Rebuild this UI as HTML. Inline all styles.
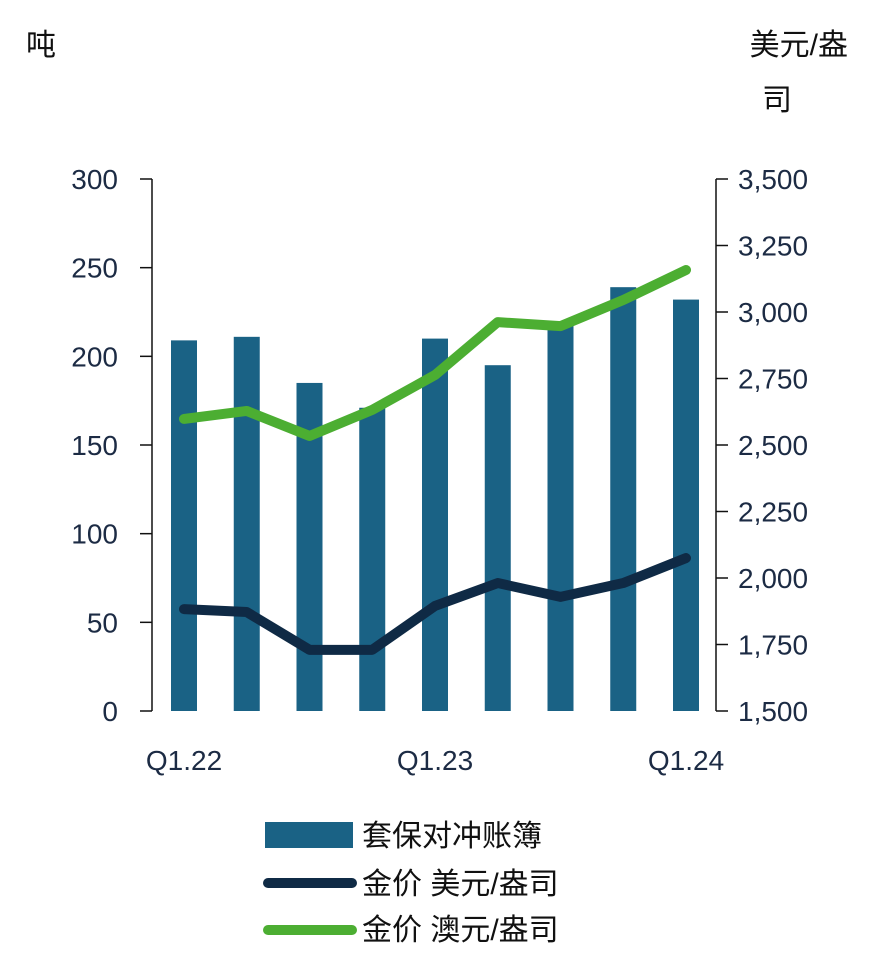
<!DOCTYPE html>
<html><head><meta charset="utf-8">
<style>
html,body{margin:0;padding:0;background:#fff;}
svg text{font-family:"Liberation Sans","Noto Sans CJK SC",sans-serif;}
</style></head>
<body>
<svg id="chart" width="870" height="962" viewBox="0 0 870 962" xmlns="http://www.w3.org/2000/svg">
<text x="26" y="55" font-size="30" fill="#111">吨</text>
<text x="848" y="55" font-size="30" fill="#111" text-anchor="end">美元/盎</text>
<text x="777" y="110" font-size="30" fill="#111" text-anchor="middle">司</text>
<g id="axes"></g>
<g id="bars"></g>
<g id="lines"></g>
<g id="legend">
  <rect x="265" y="822" width="88" height="26" fill="#1a6285"/>
  <text x="362" y="846" font-size="30" fill="#111">套保对冲账簿</text>
  <line x1="268" y1="883" x2="352" y2="883" stroke="#0f2a45" stroke-width="10" stroke-linecap="round"/>
  <text x="362" y="894" font-size="30" fill="#111">金价 美元/盎司</text>
  <line x1="268" y1="930" x2="352" y2="930" stroke="#4cae32" stroke-width="10" stroke-linecap="round"/>
  <text x="362" y="940" font-size="30" fill="#111">金价 澳元/盎司</text>
</g>
</svg>
<script>
const categories = ["Q1.22","Q2.22","Q3.22","Q4.22","Q1.23","Q2.23","Q3.23","Q4.23","Q1.24"];
const hedgeTonnes = [209,211,185,171,210,195,219,239,232];
const goldUsd = [1883,1872,1730,1730,1895,1981,1929,1981,2075];
const goldAud = [2598,2628,2534,2632,2763,2962,2947,3045,3158];
const leftTicks = [0,50,100,150,200,250,300];
const rightTicks = [1500,1750,2000,2250,2500,2750,3000,3250,3500];
const xLabels = ["Q1.22","Q1.23","Q1.24"];

const NS="http://www.w3.org/2000/svg";
const yTop=179, yBottom=711, leftX=152, rightX=716;
const yL=v=>yBottom-(v-0)/(300-0)*(yBottom-yTop);
const yR=v=>yBottom-(v-1500)/(3500-1500)*(yBottom-yTop);
const step=62.75, x0=184;
const xC=i=>x0+i*step;
function mk(tag,attrs,parent){const e=document.createElementNS(NS,tag);for(const k in attrs)e.setAttribute(k,attrs[k]);parent.appendChild(e);return e;}
const axes=document.getElementById('axes');
let ax=mk('line',{x1:leftX,y1:yTop,x2:leftX,y2:yBottom,stroke:'#111','stroke-width':1.5},axes);


ax=mk('line',{x1:rightX,y1:yTop,x2:rightX,y2:yBottom,stroke:'#111','stroke-width':1.5},axes);


leftTicks.forEach(v=>{
  const y=yL(v);
  const t=mk('line',{x1:leftX-12,y1:y,x2:leftX,y2:y,stroke:'#111','stroke-width':1.5},axes);
  
  
  const tx=mk('text',{x:118,y:y+10,'font-size':28,fill:'#1c2b44','text-anchor':'end'},axes);
  tx.textContent=v;
  
  
});
rightTicks.forEach(v=>{
  const y=yR(v);
  const t=mk('line',{x1:rightX,y1:y,x2:rightX+12,y2:y,stroke:'#111','stroke-width':1.5},axes);
  
  
  const tx=mk('text',{x:738,y:y+10,'font-size':28,fill:'#1c2b44'},axes);
  tx.textContent=v.toLocaleString('en-US');
  
  
});
xLabels.forEach(l=>{
  const i=categories.indexOf(l);
  const tx=mk('text',{x:xC(i),y:770,'font-size':28,fill:'#1c2b44','text-anchor':'middle'},axes);
  tx.textContent=l;
  
  
});
const bars=document.getElementById('bars');
hedgeTonnes.forEach((v,i)=>{
  const r=mk('rect',{x:xC(i)-13,y:yL(v),width:26,height:yBottom-yL(v),fill:'#1a6285'},bars);
  
  
});
const lines=document.getElementById('lines');
function drawLine(data,color,name){
  const p=mk('polyline',{points:data.map((v,i)=>xC(i)+','+yR(v)).join(' '),fill:'none',stroke:color,'stroke-width':10,'stroke-linecap':'round','stroke-linejoin':'round'},lines);
  
  
}
drawLine(goldUsd,'#0f2a45','line-gold-usd');
drawLine(goldAud,'#4cae32','line-gold-aud');
</script>
</body></html>
